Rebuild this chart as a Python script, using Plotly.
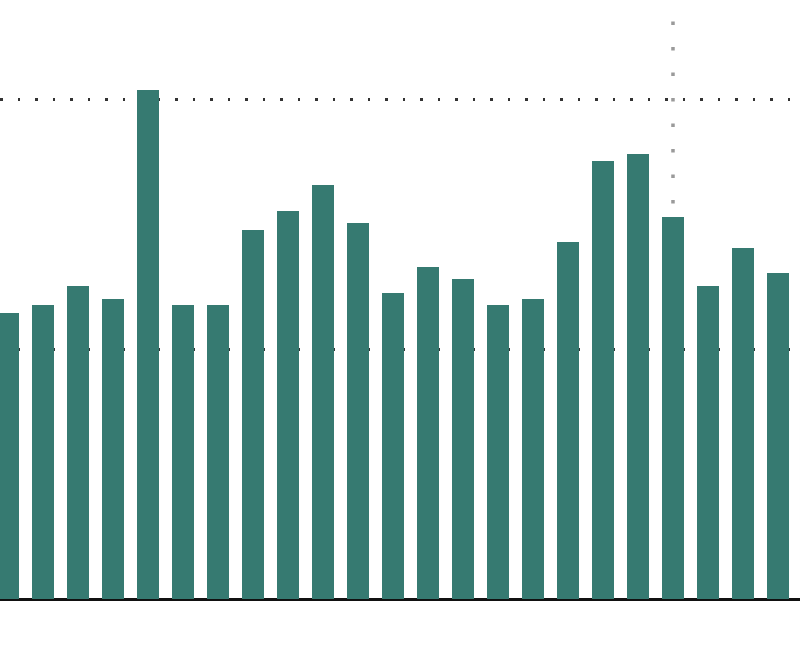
import plotly.graph_objects as go

# Data (gridlines at 10 and 20, baseline at 0)
categories = list(range(23))
values = [11.45, 11.76, 12.52, 12.0, 20.36, 11.76, 11.76, 14.76, 15.52, 16.56,
          15.04, 12.24, 13.28, 12.8, 11.76, 12.0, 14.28, 17.52, 17.8, 15.28,
          12.52, 14.04, 13.04]
grid_values = [10, 20]
marker_index = 19      # category where the vertical dotted marker stands
marker_top = 23.1

bar_color = "#367a71"

fig = go.Figure()
fig.add_trace(go.Bar(
    x=categories, y=values,
    marker=dict(color=bar_color, line=dict(width=0)),
    width=0.655,
    hoverinfo="skip",
))

fig.add_shape(
    type="line", xref="x", yref="y",
    x0=marker_index, x1=marker_index, y0=marker_top, y1=0,
    line=dict(color="#9a9a9a", width=3.5, dash="3.5px,22px"),
    layer="below",
)

fig.update_layout(
    width=800, height=645,
    margin=dict(l=0, r=0, t=0, b=0),
    paper_bgcolor="white", plot_bgcolor="white",
    showlegend=False,
    bargap=0,
)
fig.update_xaxes(
    range=[-0.229, 22.629],
    showgrid=False, showticklabels=False, ticks="", zeroline=False, showline=False,
)
fig.update_yaxes(
    range=[-1.84, 23.96],
    tickvals=grid_values, showticklabels=False, ticks="",
    showgrid=True, gridcolor="#333333", gridwidth=2.5, griddash="2.5px,15px",
    zeroline=True, zerolinecolor="#111111", zerolinewidth=3,
    showline=False,
)

fig.write_html(
    "out.html",
    config={"displayModeBar": False},
    post_script="document.body.style.margin='0';document.body.style.overflow='hidden';",
)
